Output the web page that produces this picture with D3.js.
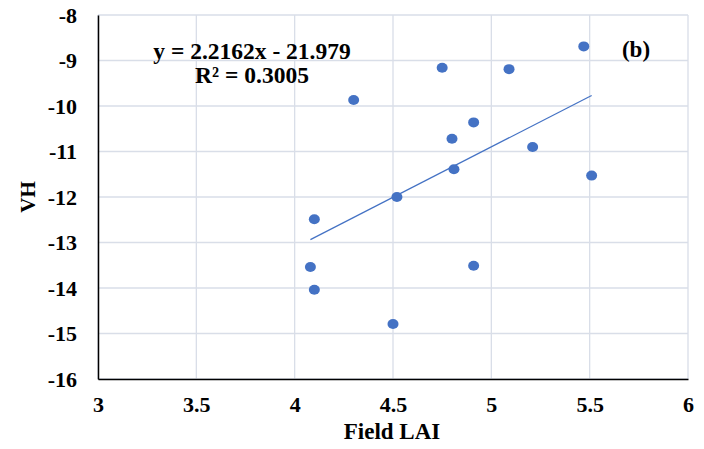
<!DOCTYPE html>
<html>
<head>
<meta charset="utf-8">
<script src="https://cdn.jsdelivr.net/npm/d3@7"></script>
<style>
  body { margin: 0; background: #fff; }
</style>
</head>
<body>
<svg width="704" height="449"></svg>
<script>
// field LAI vs VH backscatter
var fieldLAI = [5.47, 4.75, 5.09, 4.30, 4.91, 4.80, 5.21, 4.81, 5.51, 4.52, 4.10, 4.08, 4.10, 4.91, 4.50]
var vhValues = [-8.69, -9.16, -9.19, -9.87, -10.36, -10.72, -10.90, -11.39, -11.53, -12.00, -12.49, -13.54, -14.04, -13.51, -14.79]
var xTicks = [3, 3.5, 4, 4.5, 5, 5.5, 6]
var yTicks = [-8, -9, -10, -11, -12, -13, -14, -15, -16]
var slope = 2.2162
var intercept = -21.979
var eqLabel = "y = 2.2162x - 21.979"
var r2Label = "R² = 0.3005"

var serif = "'Liberation Serif', 'Times New Roman', serif"

var makeTranslateString = function(x,y)
{
    return "translate("+x+","+y+")";
}

var margins = {left:98, top:15, right:16, bottom:70}
var screen = {width:704, height:449}
var graph = {
    width: screen.width - margins.left - margins.right,
    height: screen.height - margins.top - margins.bottom
}

var svg = d3.select("svg")

var xScale = d3.scaleLinear()
    .domain([3,6])
    .range([0,graph.width])

var yScale = d3.scaleLinear()
    .domain([-16,-8])
    .range([graph.height,0])

var plot = svg.append("g")
    .attr("transform", makeTranslateString(margins.left, margins.top))

//gridlines
plot.append("g")
    .selectAll("line")
    .data(xTicks)
    .enter()
    .append("line")
    .attr("x1", function(d){return xScale(d)})
    .attr("x2", function(d){return xScale(d)})
    .attr("y1", 0)
    .attr("y2", graph.height)
    .style("stroke","#d9dee8")
    .style("stroke-width",1.3)

plot.append("g")
    .selectAll("line")
    .data(yTicks)
    .enter()
    .append("line")
    .attr("x1", 0)
    .attr("x2", graph.width)
    .attr("y1", function(d){return yScale(d)})
    .attr("y2", function(d){return yScale(d)})
    .style("stroke","#d9dee8")
    .style("stroke-width",1.3)

//axes
var xAxis = d3.axisBottom(xScale)
    .tickValues(xTicks)
    .tickSize(0)
    .tickPadding(17)
    .tickFormat(d3.format("~g"))

var yAxis = d3.axisLeft(yScale)
    .tickValues(yTicks)
    .tickSize(0)
    .tickPadding(21)
    .tickFormat(function(d){return "-" + Math.abs(d)})

var styleAxis = function(g)
{
    g.attr("font-family", null).attr("font-size", null)
    g.select(".domain").style("stroke","#000").style("stroke-width",1.5)
    g.selectAll("text")
        .style("font-family",serif)
        .style("font-weight","bold")
        .style("font-size","22px")
        .style("fill","#000")
}

var gx = plot.append("g")
    .attr("transform", makeTranslateString(0, graph.height))
    .call(xAxis)
styleAxis(gx)

var gy = plot.append("g")
    .call(yAxis)
styleAxis(gy)

//trendline
var xMin = d3.min(fieldLAI)
var xMax = d3.max(fieldLAI)
plot.append("line")
    .attr("x1", xScale(xMin))
    .attr("y1", yScale(slope*xMin + intercept))
    .attr("x2", xScale(xMax))
    .attr("y2", yScale(slope*xMax + intercept))
    .style("stroke","#4472C4")
    .style("stroke-width",1.2)

//points
plot.append("g")
    .selectAll("ellipse")
    .data(fieldLAI)
    .enter()
    .append("ellipse")
    .attr("cx", function(d){return xScale(d)})
    .attr("cy", function(d,i){return yScale(vhValues[i])})
    .attr("rx", 5.5)
    .attr("ry", 5)
    .style("fill","#4472C4")

//labels
var addLabel = function(x, y, size, txt)
{
    return svg.append("text")
        .attr("x", x)
        .attr("y", y)
        .attr("text-anchor","middle")
        .style("font-family",serif)
        .style("font-weight","bold")
        .style("font-size",size)
        .style("fill","#000")
        .text(txt)
}

addLabel(252, 59, "23.5px", eqLabel)
addLabel(252, 83, "23.5px", r2Label)
addLabel(636, 57, "23px", "(b)")
addLabel(392, 439, "23px", "Field LAI")

addLabel(0, 0, "21px", "VH")
    .attr("transform", makeTranslateString(35, 197) + " rotate(-90)")
</script>
</body>
</html>
